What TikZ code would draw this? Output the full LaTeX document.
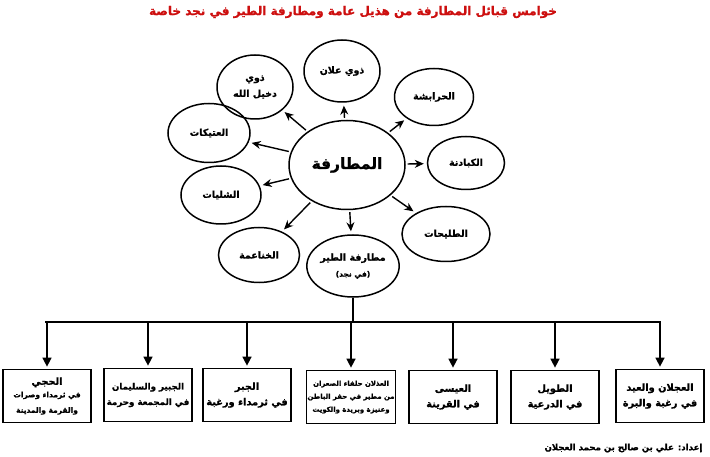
\documentclass[tikz,border=0pt]{standalone}
\usepackage{fontspec}
\TeXXeTstate=1
\newfontfamily\arabicfont[Script=Arabic, BoldFeatures={FakeBold=1.2}]{DejaVu Sans}
\usetikzlibrary{arrows.meta,shapes.geometric}
\definecolor{titlered}{RGB}{205,15,15}
\newcommand{\ar}[1]{\beginR #1\endR}
\newcommand{\smallar}{\fontsize{7.5}{12}\selectfont}
\begin{document}
\begin{tikzpicture}[x=1pt,y=-1pt,
  ell/.style={ellipse, draw, line width=1.5pt, inner sep=0pt, align=center,
    font=\arabicfont\bfseries\fontsize{9.5}{16}\selectfont},
  box/.style={draw, line width=1.7pt, minimum width=88pt, minimum height=53pt, inner sep=1pt, align=center,
    font=\arabicfont\bfseries\fontsize{9.8}{15.5}\selectfont},
  arr/.style={line width=1.4pt, -{Stealth[length=9pt,width=8pt]}, shorten <=2pt, shorten >=3pt},
  arrB/.style={line width=1.4pt, -{Triangle[length=9pt,width=9pt]}, shorten >=2pt},
  ln/.style={line width=1.4pt}]
\fill[white] (0,0) rectangle (710,457);
\useasboundingbox (0,0) rectangle (710,457);

\node[font=\arabicfont\bfseries\fontsize{12}{14}\selectfont, text=titlered] (title) at (353,12)
  {\ar{خوامس قبائل المطارفة من هذيل عامة ومطارفة الطير في نجد خاصة}};

\node[ell, minimum width=116pt, minimum height=89pt, font=\arabicfont\bfseries\fontsize{15.5}{18}\selectfont] (c) at (347,165) {\ar{المطارفة}};

\node[ell, minimum width=76pt, minimum height=62pt] (allan) at (342,71) {\ar{ذوي علان}};
\node[ell, minimum width=76pt, minimum height=64pt] (dakhil) at (255,87) {\ar{ذوي}\\\ar{دخيل الله}};
\node[ell, minimum width=79pt, minimum height=57pt] (harab) at (434,97) {\ar{الحرابشة}};
\node[ell, minimum width=82pt, minimum height=59pt] (atik) at (209,133) {\ar{العتيكات}};
\node[ell, minimum width=77pt, minimum height=53pt] (kabad) at (466,163) {\ar{الكبادنة}};
\node[ell, minimum width=80pt, minimum height=58pt] (shil) at (221,195) {\ar{الشليات}};
\node[ell, minimum width=88pt, minimum height=55pt] (talih) at (446,234) {\ar{الطليحات}};
\node[ell, minimum width=81pt, minimum height=55pt] (khana) at (259,255) {\ar{الخناعمة}};
\node[ell, minimum width=87pt, minimum height=62pt] (tayr) at (353,266)
  {\ar{مطارفة الطير}\\\fontsize{7.5}{9}\selectfont\ar{(في نجد)}};

\foreach \t in {allan,dakhil,harab,atik,kabad,shil,talih,khana,tayr}
  \draw[arr] (c) -- (\t);

\coordinate (bar) at (352,322);

\node[box] (b1) at (47,396) {\ar{الحجي}\\[-3pt]\smallar\ar{في ثرمداء وصرات}\\\smallar\ar{والقرمة والمدينة}};
\node[box, font=\arabicfont\bfseries\fontsize{8.7}{15.5}\selectfont] (b2) at (148,395) {\ar{الجبير والسليمان}\\\ar{في المجمعة وحرمة}};
\node[box] (b3) at (247,395) {\ar{الجبر}\\\ar{في ثرمداء ورغبة}};
\node[box, font=\arabicfont\bfseries\fontsize{6.9}{13}\selectfont] (b4) at (351,397) {\ar{العذلان حلفاء الصعران}\\\ar{من مطير في حفر الباطن}\\\ar{وعنيزة وبريدة والكويت}};
\node[box] (b5) at (453,397) {\ar{العيسى}\\\ar{في القرينة}};
\node[box] (b6) at (555,397) {\ar{الطويل}\\\ar{في الدرعية}};
\node[box] (b7) at (660,396) {\ar{العجلان والعيد}\\\ar{في رغبة والبرة}};

\draw[ln] (tayr.south) -- (tayr.south |- bar);
\draw[ln] ([xshift=-2pt]b1.north |- bar) -- ([xshift=0.7pt]b7.north |- bar);
\foreach \b in {b1,b2,b3,b4,b5,b6,b7}
  \draw[arrB] (\b.north |- bar) -- (\b.north);

\node[anchor=east, font=\arabicfont\bfseries\fontsize{8.6}{10}\selectfont] (author) at (706,448)
  {\ar{إعداد: علي بن صالح بن محمد العجلان}};
\end{tikzpicture}
\end{document}
